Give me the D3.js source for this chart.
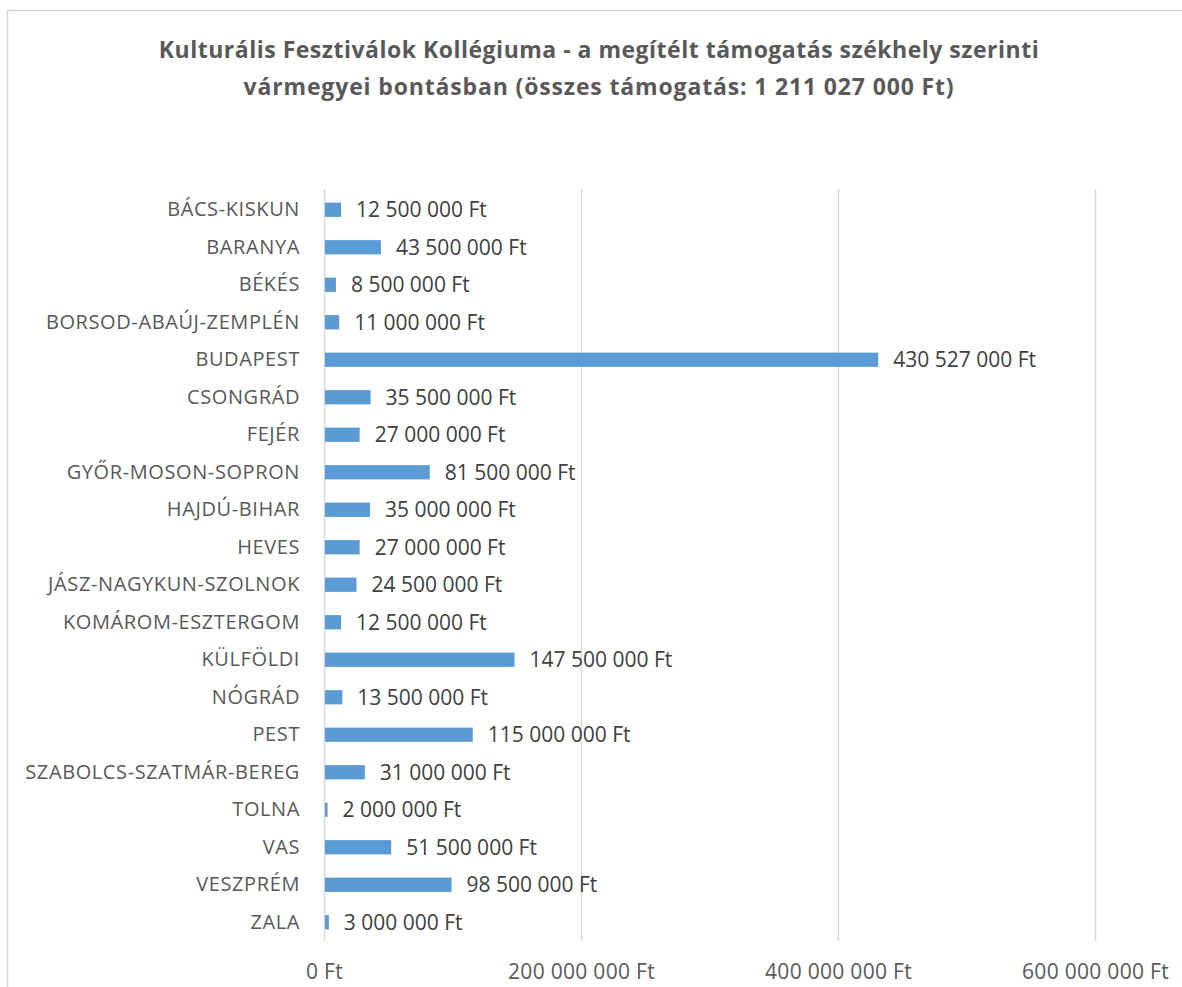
<!DOCTYPE html>
<html>
<head>
<meta charset="utf-8">
<script src="https://cdn.jsdelivr.net/npm/d3@7/dist/d3.min.js"></script>
<style>
  html, body { margin: 0; padding: 0; background: #fff; }
  svg { display: block; font-family: "Open Sans", "Noto Sans", sans-serif; }
</style>
</head>
<body>
<svg id="chart" width="1182" height="987"></svg>
<script>
const counties = [
  "BÁCS-KISKUN", "BARANYA", "BÉKÉS", "BORSOD-ABAÚJ-ZEMPLÉN", "BUDAPEST",
  "CSONGRÁD", "FEJÉR", "GYŐR-MOSON-SOPRON", "HAJDÚ-BIHAR", "HEVES",
  "JÁSZ-NAGYKUN-SZOLNOK", "KOMÁROM-ESZTERGOM", "KÜLFÖLDI", "NÓGRÁD", "PEST",
  "SZABOLCS-SZATMÁR-BEREG", "TOLNA", "VAS", "VESZPRÉM", "ZALA"
];
const grants = [
  12500000, 43500000, 8500000, 11000000, 430527000,
  35500000, 27000000, 81500000, 35000000, 27000000,
  24500000, 12500000, 147500000, 13500000, 115000000,
  31000000, 2000000, 51500000, 98500000, 3000000
];
const axisTicks = [0, 200000000, 400000000, 600000000];
const titleLines = [
  "Kulturális Fesztiválok Kollégiuma - a megítélt támogatás székhely szerinti",
  "vármegyei bontásban (összes támogatás: 1 211 027 000 Ft)"
];

// Hungarian-style thousands separator with a space, plus currency suffix
const fmtFt = v => d3.format(",")(v).replace(/,/g, " ") + " Ft";

const svg = d3.select("#chart");
const rows = counties.map((c, i) => ({ county: c, value: grants[i] }));

const x = d3.scaleLinear().domain([0, 600000000]).range([324, 1095]);
const y = d3.scaleBand().domain(counties).range([191, 941])
  .paddingInner(0.62).paddingOuter(0.31);

// outer chart frame
svg.append("rect")
  .attr("x", 7.5).attr("y", 10.5)
  .attr("width", 1200).attr("height", 1000)
  .attr("fill", "none").attr("stroke", "#d9d9d9").attr("stroke-width", 1.5);

// title
svg.append("text")
  .attr("text-anchor", "middle")
  .attr("fill", "#595959")
  .attr("font-weight", "bold")
  .attr("font-size", 23)
  .attr("letter-spacing", 0.5)
  .selectAll("tspan").data(titleLines).join("tspan")
  .attr("x", 599)
  .attr("y", (d, i) => 58 + i * 37)
  .attr("letter-spacing", (d, i) => i === 1 ? 0.85 : 0.5)
  .text(d => d);

// vertical gridlines
svg.append("g").selectAll("line").data(axisTicks).join("line")
  .attr("x1", d => Math.round(x(d)) + 0.5).attr("x2", d => Math.round(x(d)) + 0.5)
  .attr("y1", 189).attr("y2", 941)
  .attr("stroke", "#d9d9d9").attr("stroke-width", 1.5);

// x axis tick labels
const xAxis = d3.axisBottom(x).tickValues(axisTicks).tickSize(0).tickPadding(0).tickFormat(fmtFt);
const gx = svg.append("g").attr("transform", "translate(0,979)").call(xAxis);
gx.select(".domain").remove();
gx.selectAll("text")
  .attr("fill", "#595959").attr("font-size", 21)
  .attr("letter-spacing", 0.3)
  .attr("font-family", "\"Open Sans\", sans-serif")
  .attr("y", 0).attr("dy", 0);

// y axis category labels
const yAxis = d3.axisLeft(y).tickSize(0).tickPadding(0);
const gy = svg.append("g").attr("transform", "translate(300,0)").call(yAxis);
gy.select(".domain").remove();
gy.selectAll("text")
  .attr("fill", "#595959").attr("font-size", 20)
  .attr("letter-spacing", 0.6)
  .attr("font-family", "\"Open Sans\", sans-serif");

// bars
svg.append("g").selectAll("rect").data(rows).join("rect")
  .attr("x", x(0) + 1)
  .attr("y", d => y(d.county))
  .attr("width", d => Math.max(0, x(d.value) - x(0)))
  .attr("height", y.bandwidth())
  .attr("fill", "#5b9bd5");

// value labels
svg.append("g").selectAll("text").data(rows).join("text")
  .attr("x", d => x(d.value) + 16)
  .attr("y", d => y(d.county) + y.bandwidth() / 2)
  .attr("dy", "0.36em")
  .attr("fill", "#404040")
  .attr("font-size", 21)
  .text(d => fmtFt(d.value));
</script>
</body>
</html>
